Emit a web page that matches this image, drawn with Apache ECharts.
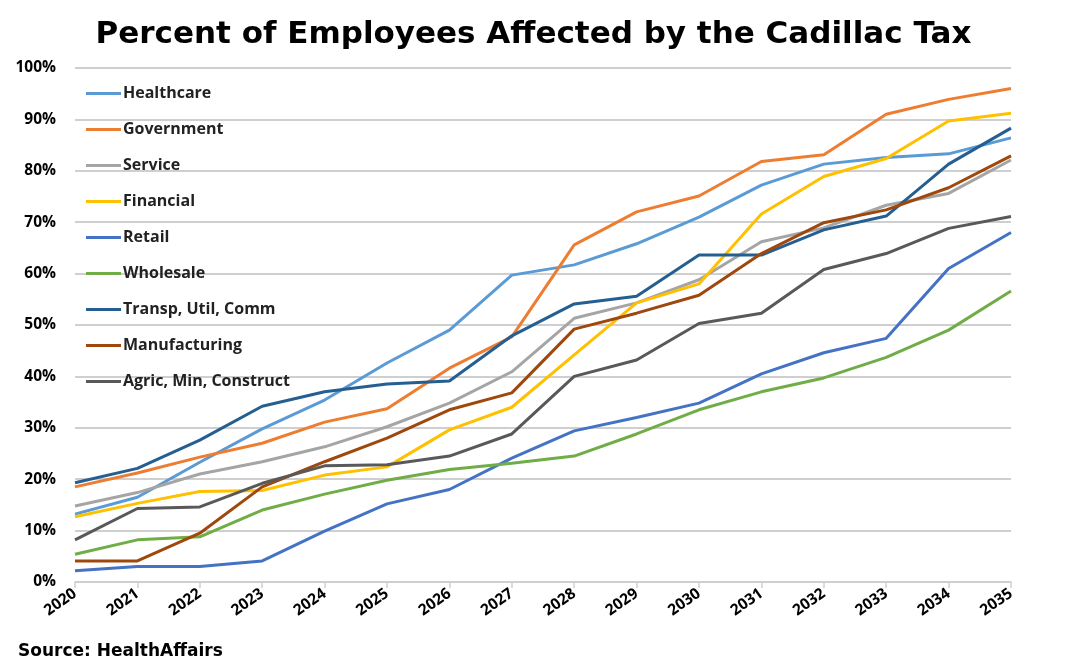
<!DOCTYPE html>
<html><head><meta charset="utf-8">
<script src="https://cdn.jsdelivr.net/npm/echarts@6/dist/echarts.min.js"></script>
<style>html,body{margin:0;padding:0;background:#fff}#c{width:1067px;height:671px}</style>
</head><body><div id="c"></div>
<script>
const years = ['2020','2021','2022','2023','2024','2025','2026','2027','2028','2029','2030','2031','2032','2033','2034','2035'];
const healthcare   = [13.2,16.5,23.3,29.8,35.4,42.6,49.0,59.7,61.7,65.8,71.0,77.2,81.3,82.6,83.3,86.4];
const government   = [18.5,21.2,24.3,27.0,31.1,33.7,41.6,47.7,65.6,72.0,75.1,81.8,83.1,91.0,93.9,96.0];
const service      = [14.8,17.4,21.0,23.4,26.3,30.2,34.8,40.9,51.3,54.3,58.8,66.2,68.9,73.3,75.6,82.1];
const financial    = [12.7,15.3,17.6,17.8,20.8,22.4,29.6,34.0,44.2,54.3,58.0,71.6,78.9,82.4,89.7,91.2];
const retail       = [2.2,3.0,3.0,4.1,9.9,15.2,18.0,24.1,29.4,32.0,34.8,40.5,44.6,47.4,61.0,68.0];
const wholesale    = [5.4,8.2,8.8,14.0,17.1,19.8,21.9,23.1,24.5,28.8,33.5,37.0,39.7,43.7,49.0,56.6];
const transp       = [19.3,22.1,27.6,34.2,37.0,38.5,39.1,47.9,54.1,55.6,63.6,63.6,68.5,71.2,81.3,88.3];
const manufacturing= [4.1,4.1,9.5,18.5,23.4,28.0,33.5,36.8,49.2,52.3,55.8,63.9,69.9,72.4,76.7,82.9];
const agric        = [8.2,14.3,14.6,19.2,22.6,22.8,24.5,28.8,40.0,43.2,50.3,52.3,60.8,63.9,68.8,71.1];
const seriesNames = ['Healthcare','Government','Service','Financial','Retail','Wholesale','Transp, Util, Comm','Manufacturing','Agric, Min, Construct'];
const seriesData = [healthcare,government,service,financial,retail,wholesale,transp,manufacturing,agric];
const colors = ['#5B9BD5','#ED7D31','#A5A5A5','#FFC000','#4472C4','#70AD47','#255E91','#9E480E','#595959'];

const chart = echarts.init(document.getElementById('c'));
chart.setOption({
  animation:false,
  color: colors,
  title: {
    text: 'Percent of Employees Affected by the Cadillac Tax',
    left: 'center', top: 14,
    textStyle: {fontFamily:'DejaVu Sans', fontWeight:'bold', fontSize:31, color:'#000'}
  },
  graphic: [{type:'text', left:18, top:643, style:{text:'Source: HealthAffairs', font:'bold 17px "DejaVu Sans"', fill:'#000'}}],
  legend: {
    orient:'vertical', left:81, top:80,
    icon:'rect', itemWidth:35, itemHeight:3, itemGap:19,
    data: seriesNames,
    textStyle:{fontFamily:'Open Sans', fontWeight:'bold', fontSize:16, color:'#222', lineHeight:17, padding:[0,0,0,-3]}
  },
  grid: {left:75, right:56, top:68, bottom:89},
  xAxis: {
    type:'category', data: years, boundaryGap:false,
    axisLine:{lineStyle:{color:'#D0D0D0', width:1.5}},
    axisTick:{show:true, length:6, lineStyle:{color:'#D0D0D0', width:1.5}},
    axisLabel:{rotate:35, margin:10, fontFamily:'Open Sans', fontWeight:'bold', fontSize:15.5, color:'#000'}
  },
  yAxis: {
    type:'value', min:0, max:100, interval:10,
    axisLine:{show:false}, axisTick:{show:false},
    splitLine:{lineStyle:{color:'#BFBFBF', width:1.5}},
    axisLabel:{formatter:'{value}%', margin:19, fontFamily:'Open Sans', fontWeight:'bold', fontSize:15.5, color:'#000'}
  },
  series: seriesNames.map((n,i)=>({
    name:n, type:'line', data:seriesData[i], symbol:'none',
    lineStyle:{width:3, color:colors[i]}, itemStyle:{color:colors[i]}
  }))
});
</script></body></html>
